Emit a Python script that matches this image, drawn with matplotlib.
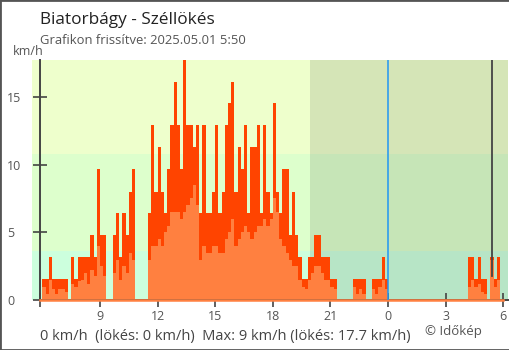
import matplotlib.pyplot as plt
import numpy as np
from matplotlib.patches import Rectangle

plt.rcParams['font.family'] = ['Open Sans', 'DejaVu Sans']

# 10 minute values from 6:00 (day 1) to 5:50 (day 2), km/h
gust = [
    1.6, 1.6, 3.2, 1.6, 1.6, 1.6,      # 6
    1.6, 1.6, 0, 3.2, 1.6, 3.2,        # 7
    3.2, 3.2, 3.2, 4.8, 3.2, 9.7,      # 8
    4.8, 4.8, 0, 0, 4.8, 6.4,          # 9
    3.2, 6.4, 4.8, 8.0, 9.7, 0,        # 10
    0, 0, 0, 6.4, 12.9, 8.0,           # 11
    11.3, 8.0, 6.4, 9.7, 12.9, 16.1,   # 12
    12.9, 9.7, 17.7, 12.9, 12.9, 11.3, # 13
    12.9, 6.4, 12.9, 6.4, 6.4, 8.0,    # 14
    12.9, 6.4, 8.0, 12.9, 14.5, 16.1,  # 15
    8.0, 11.3, 9.7, 12.9, 6.4, 11.3,   # 16
    11.3, 12.9, 6.4, 12.9, 8.0, 6.4,   # 17
    14.5, 8.0, 6.4, 9.7, 9.7, 4.8,     # 18
    8.0, 4.8, 3.2, 1.6, 1.6, 3.2,      # 19
    3.2, 4.8, 4.8, 3.2, 3.2, 3.2,      # 20
    1.6, 1.6, 0, 0, 0, 0,              # 21
    0, 1.6, 1.6, 1.6, 1.6, 0,          # 22
    0, 1.6, 1.6, 1.6, 3.2, 1.6,        # 23
    0, 0, 0, 0, 0, 0,                  # 0
    0, 0, 0, 0, 0, 0,                  # 1
    0, 0, 0, 0, 0, 0,                  # 2
    0, 0, 0, 0, 0, 0,                  # 3
    0, 3.2, 3.2, 1.6, 3.2, 1.6,        # 4
    1.6, 0, 3.2, 1.6, 3.2, 0,          # 5
]
speed = [
    1.0, 0.5, 1.5, 0.8, 0.5, 0.8,
    0.8, 0.6, 0, 1.2, 1.0, 1.4,
    1.5, 2.0, 1.2, 2.2, 1.8, 4.0,
    2.5, 1.8, 0, 0, 2.0, 3.0,
    1.5, 2.5, 2.0, 3.5, 3.0, 0,
    0, 0, 0, 3.0, 4.0, 4.0,
    4.5, 4.0, 5.0, 5.5, 6.5, 6.5,
    6.5, 6.0, 6.5, 7.0, 7.5, 8.5,
    7.0, 3.0, 4.0, 3.5, 3.5, 4.0,
    4.0, 3.5, 3.5, 4.5, 5.0, 6.0,
    4.0, 4.5, 5.0, 5.5, 5.0, 4.5,
    5.0, 5.5, 5.5, 6.0, 5.5, 6.0,
    7.5, 6.5, 4.5, 4.0, 3.5, 3.0,
    2.5, 2.5, 1.5, 1.0, 0.8, 1.5,
    2.0, 2.5, 2.5, 2.0, 1.5, 1.5,
    1.0, 0.8, 0, 0, 0, 0,
    0, 1.0, 0.5, 0.8, 0.5, 0,
    0, 0.8, 0.5, 1.0, 1.5, 0.8,
    0, 0, 0, 0, 0, 0,
    0, 0, 0, 0, 0, 0,
    0, 0, 0, 0, 0, 0,
    0, 0, 0, 0, 0, 0,
    0, 1.0, 1.5, 1.0, 1.2, 0.6,
    0.5, 0, 3.0, 1.0, 1.5, 0,
]
start_hour = 6
xtick_pos = [9, 12, 15, 18, 21, 24, 27, 30]
xtick_lab = ['9', '12', '15', '18', '21', '0', '3', '6']
yticks = [0, 5, 10, 15]
sunset = 19.93
marker_time = 29.42

t = start_hour + np.arange(len(gust)) / 6

fig = plt.figure(figsize=(5.1, 3.5), dpi=100)
ax = fig.add_axes([32 / 510, 1 - 300.3 / 350, 476 / 510, 240.3 / 350])
ax.set_xlim(5.458, 30.25)
ax.set_ylim(0, 17.7)

# wind bands
ax.axhspan(0, 3.6, color='#ccffdd', lw=0, zorder=0)
ax.axhspan(3.6, 10.8, color='#ddffcc', lw=0, zorder=0)
ax.axhspan(10.8, 20, color='#eeffcc', lw=0, zorder=0)
ax.axvspan(sunset, 31, color='black', alpha=0.1, lw=0, zorder=0.5)

ax.bar(t, gust, width=1 / 6, align='edge', color='#ff4400', lw=0, zorder=2)
ax.bar(t, speed, width=1 / 6, align='edge', color='#ff8040', lw=0, zorder=2.1)
ax.plot([5.9, 30.0], [0.05, 0.05], color='#ff8040', lw=1.8, zorder=3, clip_on=False)

ax.axvline(24, color='#2196f3', lw=1.1, zorder=3)
ax.axvline(marker_time, ymin=1.8 / 17.7, ymax=1, color='#444444', lw=1.3, zorder=3)

for s in ['top', 'right']:
    ax.spines[s].set_visible(False)
ax.spines['left'].set_position(('data', 5.9))
ax.spines['bottom'].set_bounds(5.9, 30.25)
for s in ['left', 'bottom']:
    ax.spines[s].set_color('#444444')
    ax.spines[s].set_linewidth(1.4)

ax.set_xticks([5.9] + xtick_pos)
ax.set_xticklabels([''] + xtick_lab)
ax.set_yticks(yticks)
ax.tick_params(axis='x', direction='inout', length=10, width=1.2, color='#444444',
               labelsize=9, labelcolor='#555555', pad=2.2)
ax.tick_params(axis='y', direction='inout', length=9.4, width=1.2, color='#444444',
               labelsize=9, labelcolor='#555555', pad=19.4)
for lbl in ax.get_yticklabels():
    lbl.set_horizontalalignment('left')

fig.text(40 / 510, 1 - 24 / 350, 'Biatorbágy - Széllökés', fontsize=12.4, color='#222222', va='baseline')
fig.text(40 / 510, 1 - 44.3 / 350, 'Grafikon frissítve: 2025.05.01 5:50', fontsize=9.4, color='#555555', va='baseline')
fig.text(13 / 510, 1 - 55 / 350, 'km/h', fontsize=9, color='#555555', va='baseline')
fig.text(40 / 510, 1 - 340 / 350, '0 km/h  (lökés: 0 km/h)  Max: 9 km/h (lökés: 17.7 km/h)',
         fontsize=10.5, color='#444444', va='baseline')
fig.text(425 / 510, 1 - 335 / 350, '© Időkép', fontsize=9.5, color='#555555', va='baseline')

fig.patches.append(Rectangle((0, 0), 1, 1, transform=fig.transFigure, fill=False,
                             edgecolor='#555555', lw=2))

fig.savefig('out.png', dpi=100)
